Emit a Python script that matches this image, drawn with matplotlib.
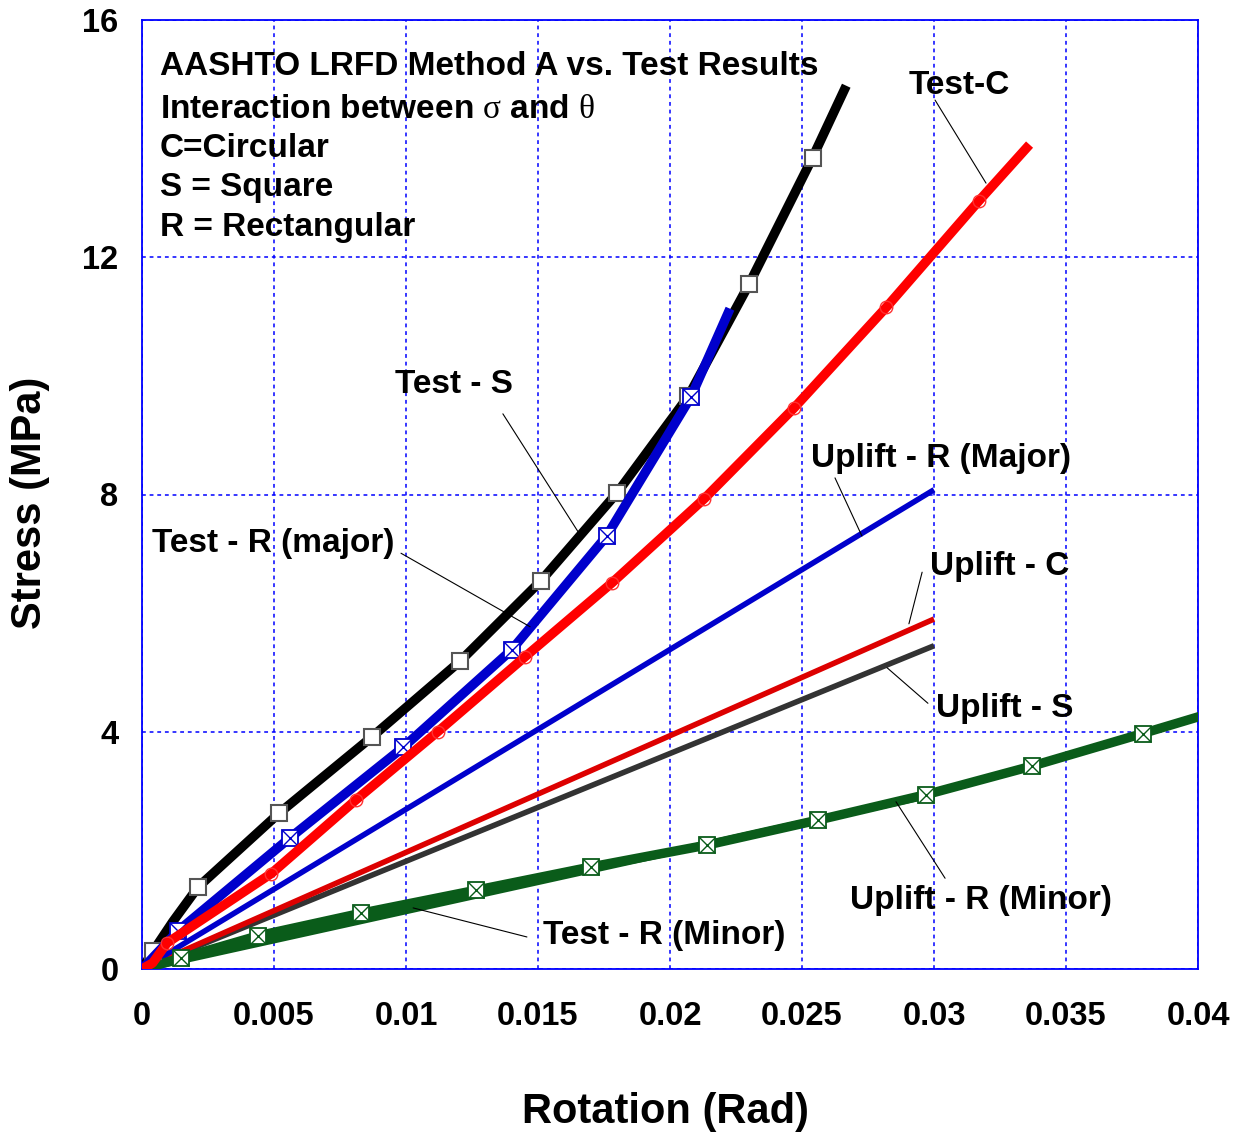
import matplotlib
matplotlib.use("Agg")
import matplotlib.pyplot as plt

plt.rcParams['font.family'] = ['Liberation Sans', 'DejaVu Sans']
plt.rcParams['mathtext.fontset'] = 'custom'
plt.rcParams['mathtext.rm'] = 'Liberation Serif'
plt.rcParams['mathtext.it'] = 'Liberation Serif'
plt.rcParams['mathtext.bf'] = 'Liberation Serif'

# ---- measured curves (rotation in rad, stress in MPa) ----
rot_test_s = [0, 0.00042, 0.00117, 0.00212, 0.0052, 0.0087, 0.01205, 0.0151,
              0.018, 0.0207, 0.023, 0.0254, 0.0266]
stress_test_s = [0, 0.30, 0.80, 1.38, 2.63, 3.91, 5.19, 6.54,
                 8.03, 9.66, 11.55, 13.68, 14.82]
marks_test_s = [1, 3, 4, 5, 6, 7, 8, 9, 10, 11]

rot_test_r_major = [0, 0.00136, 0.0056, 0.0099, 0.014, 0.0176, 0.0208, 0.0222]
stress_test_r_major = [0, 0.64, 2.21, 3.74, 5.38, 7.30, 9.65, 11.06]
marks_test_r_major = [1, 2, 3, 4, 5, 6]

rot_test_c = [0, 0.0004, 0.00095, 0.0049, 0.0081, 0.0112, 0.0145, 0.0178,
              0.0213, 0.0247, 0.0282, 0.0317, 0.0335]
stress_test_c = [0, 0.10, 0.44, 1.61, 2.85, 4.00, 5.26, 6.51,
                 7.93, 9.46, 11.16, 12.95, 13.84]
marks_test_c = [2, 3, 4, 5, 6, 7, 8, 9, 10, 11]

rot_test_r_minor = [0, 0.00146, 0.0044, 0.0083, 0.01267, 0.0170, 0.0214,
                    0.0256, 0.0297, 0.0337, 0.0379, 0.04]
stress_test_r_minor = [0, 0.18, 0.56, 0.94, 1.33, 1.72, 2.09,
                       2.51, 2.94, 3.42, 3.97, 4.25]
marks_test_r_minor = [1, 2, 3, 4, 5, 6, 7, 8, 9, 10]

# ---- AASHTO LRFD Method A uplift limits (linear) ----
rot_uplift = [0, 0.03]
stress_uplift_r_major = [0, 8.08]
stress_uplift_c = [0, 5.90]
stress_uplift_s = [0, 5.45]
stress_uplift_r_minor = [0, 2.95]

x_ticks = [0, 0.005, 0.01, 0.015, 0.02, 0.025, 0.03, 0.035, 0.04]
x_tick_labels = ["0", "0.005", "0.01", "0.015", "0.02", "0.025", "0.03", "0.035", "0.04"]
y_ticks = [0, 4, 8, 12, 16]
y_tick_labels = ["0", "4", "8", "12", "16"]

BLUE = '#0000cc'
GREEN = '#0a5c1a'
FS = 24

fig = plt.figure(figsize=(12.42, 11.32), dpi=100)
ax = fig.add_axes([142 / 1242, 1 - 969 / 1132, 1056 / 1242, 949 / 1132])

# uplift limit lines
ax.plot(rot_uplift, stress_uplift_r_minor, color=GREEN, lw=5.2, solid_capstyle='butt', zorder=3)
ax.plot(rot_uplift, stress_uplift_s, color='#333333', lw=4.0, solid_capstyle='butt', zorder=3)
ax.plot(rot_uplift, stress_uplift_c, color='#dd0000', lw=4.0, solid_capstyle='butt', zorder=3)
ax.plot(rot_uplift, stress_uplift_r_major, color=BLUE, lw=4.0, solid_capstyle='butt', zorder=3)

# test curves
ax.plot(rot_test_r_minor, stress_test_r_minor, color=GREEN, lw=6.8, zorder=4,
        marker='s', markevery=marks_test_r_minor, ms=11, mfc='white', mec=GREEN, mew=1.3)
ax.plot([rot_test_r_minor[i] for i in marks_test_r_minor],
        [stress_test_r_minor[i] for i in marks_test_r_minor],
        ls='none', marker='x', ms=11, mec=GREEN, mew=1.0, zorder=4.1)

ax.plot(rot_test_s, stress_test_s, color='black', lw=6.8, zorder=5,
        marker='s', markevery=marks_test_s, ms=11, mfc='white', mec='#555555', mew=1.5)

ax.plot(rot_test_r_major, stress_test_r_major, color=BLUE, lw=6.8, zorder=6,
        marker='s', markevery=marks_test_r_major, ms=11, mfc='white', mec=BLUE, mew=1.3)
ax.plot([rot_test_r_major[i] for i in marks_test_r_major],
        [stress_test_r_major[i] for i in marks_test_r_major],
        ls='none', marker='x', ms=11, mec=BLUE, mew=1.0, zorder=6.1)

ax.plot(rot_test_c, stress_test_c, color='#ff0000', lw=6.8, zorder=7,
        marker='o', markevery=marks_test_c, ms=9, mfc='none', mec='#ff3030', mew=1.0)

# axes styling
ax.set_xlim(0, 0.04)
ax.set_ylim(0, 16)
ax.set_xticks(x_ticks)
ax.set_xticklabels(x_tick_labels)
ax.set_yticks(y_ticks)
ax.set_yticklabels(y_tick_labels)
ax.tick_params(axis='both', length=0, labelsize=23.5)
ax.tick_params(axis='x', pad=23)
ax.tick_params(axis='y', pad=17)
for lbl in ax.get_xticklabels() + ax.get_yticklabels():
    lbl.set_fontweight('bold')
ax.grid(True, color='#0000ff', lw=1.1, linestyle=(0, (2.5, 2.5)), zorder=1)
ax.set_axisbelow(True)
for sp in ax.spines.values():
    sp.set_color('#0000ff')
    sp.set_linewidth(1.3)

ax.set_xlabel('Rotation (Rad)', fontsize=30, fontweight='bold', va='center')
ax.xaxis.set_label_coords(0.4957, -0.1505)
ax.set_ylabel('Stress (MPa)', fontsize=30, fontweight='bold', va='center')
ax.yaxis.set_label_coords(-0.106, 0.491)

# note block
note_lines = [
    ("AASHTO LRFD Method A vs. Test Results", 15.07),
    (r"Interaction between $\sigma$ and $\theta$", 14.35),
    ("C=Circular", 13.69),
    ("S = Square", 13.03),
    ("R = Rectangular", 12.36),
]
for txt, yb in note_lines:
    ax.text(0.00068, yb, txt, fontsize=FS, fontweight='bold', ha='left',
            va='baseline', zorder=10)

# curve labels with leader lines
labels = [
    ("Test-C", (0.02902, 14.75), (0.03004, 14.65), (0.03197, 13.25)),
    ("Test - S", (0.00958, 9.71), (0.01367, 9.36), (0.01652, 7.37)),
    ("Test - R (major)", (0.00038, 7.03), (0.00981, 7.01), (0.0147, 5.77)),
    ("Uplift - R (Major)", (0.02534, 8.46), (0.02625, 8.28), (0.02727, 7.30)),
    ("Uplift - C", (0.02985, 6.64), (0.02955, 6.69), (0.02905, 5.82)),
    ("Uplift - S", (0.03008, 4.25), (0.02977, 4.48), (0.02822, 5.08)),
    ("Uplift - R (Minor)", (0.02682, 1.01), (0.03042, 1.53), (0.02856, 2.82)),
    ("Test - R (Minor)", (0.01519, 0.42), (0.01458, 0.54), (0.01027, 1.03)),
]
for txt, pos, p0, p1 in labels:
    ax.text(pos[0], pos[1], txt, fontsize=FS, fontweight='bold', ha='left',
            va='baseline', zorder=10)
    ax.annotate("", xy=p1, xytext=p0,
                arrowprops=dict(arrowstyle='-', color='black', lw=0.8,
                                shrinkA=0, shrinkB=0), zorder=9)

fig.savefig('out.png', dpi=100)
